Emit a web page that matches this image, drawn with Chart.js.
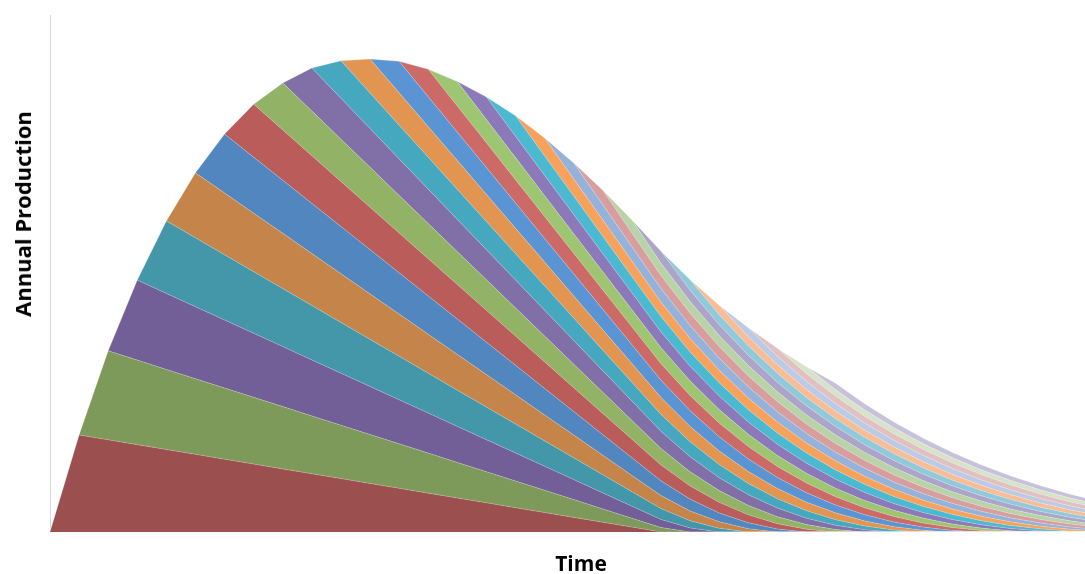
<!DOCTYPE html>
<html>
<head>
<meta charset="utf-8">
<title>Annual Production</title>
<script src="https://cdn.jsdelivr.net/npm/chart.js@4.4.1/dist/chart.umd.min.js"></script>
<style>
	body { margin: 0; overflow: hidden; background: #fff; }
	#wrap { position: relative; width: 1085px; height: 574px; overflow: hidden; }
	#canvas0 { position: absolute; left: 0; top: 0; }
	#ytitle {
		position: absolute; left: 22px; top: 214px;
		transform: translate(-50%, -50%) rotate(-90deg);
		white-space: nowrap;
		font: 700 22px 'Open Sans', sans-serif;
		color: #000;
	}
</style>
</head>
<body>
<div id="wrap">
	<canvas id="canvas0" width="1112" height="574"></canvas>
	<div id="ytitle">Annual Production</div>
</div>
<script>
// time steps on the x axis
const years = [0, 1, 2, 3, 4, 5, 6, 7, 8, 9, 10, 11, 12, 13, 14, 15, 16, 17, 18, 19,
	20, 21, 22, 23, 24, 25, 26, 27, 28, 29, 30, 31, 32, 33, 34, 35, 36, 37];

// first-year production of each annual cohort (one layer each)
const cohortRate = [97, 89, 80, 72.5, 65, 59, 53, 47, 43, 37.5, 34, 31.5, 27.5, 24.5,
	22.5, 20.5, 18, 16, 14.5, 13, 12, 10.5, 9.5, 9, 8, 7, 6.5];

// share of first-year rate left after n years
const declineFraction = [1, 0.95, 0.90, 0.85, 0.80, 0.75, 0.70, 0.65, 0.60, 0.55, 0.50,
	0.45, 0.40, 0.35, 0.30, 0.25, 0.20, 0.15, 0.10, 0.05, 0];

const seriesColors = [
	'#9B4F4E', '#7E9A5A', '#725F97', '#4397A8', '#C5844A', '#5286BE',
	'#B95C5A', '#92B266', '#8170A7', '#46A8BF', '#E19551', '#5A94D3',
	'#CB6A66', '#9EC572', '#8B79B9', '#4BBAD1', '#F7A25C', '#95B2DB',
	'#D89E9E', '#B8D3A7', '#ADA5C9', '#90C9DA', '#F9BC95', '#BCCBE5',
	'#E1C0BF', '#D4E3CA', '#C8C1DC'
];

/**
 * Production of one cohort at every time step.
 */
function cohortSeries(c) {
	return years.map(t => {
		const age = t - c - 1;
		const f = (age >= 0 && age < declineFraction.length) ? declineFraction[age] : 0;
		return { x: t, y: cohortRate[c] * f };
	});
}

const datasets = cohortRate.map((rate, c) => ({
	label: 'Cohort ' + (c + 1),
	data: cohortSeries(c),
	backgroundColor: seriesColors[c],
	borderColor: 'rgba(255, 255, 255, 0.45)',
	borderWidth: 0.5,
	pointRadius: 0,
	tension: 0,
	fill: c === 0 ? 'origin' : '-1'
}));

const ctx = document.getElementById('canvas0').getContext('2d');

new Chart(ctx, {
	type: 'line',
	data: { datasets: datasets },
	options: {
		responsive: false,
		animation: false,
		devicePixelRatio: 1,
		layout: { padding: { left: 50, top: 15, right: 0, bottom: 0 } },
		plugins: {
			legend: { display: false },
			tooltip: { enabled: false }
		},
		scales: {
			x: {
				type: 'linear',
				min: 0,
				max: 36.5,
				z: 1,
				ticks: { display: false },
				grid: { display: false, drawTicks: false },
				border: { display: true, color: '#a6a6a6', width: 1 },
				title: {
					display: true,
					text: 'Time',
					color: '#000',
					font: { family: "'Open Sans', sans-serif", size: 21, weight: 'bold', lineHeight: 0.86 },
					padding: { top: 24, bottom: 0 }
				}
			},
			y: {
				stacked: true,
				min: 0,
				max: 517,
				z: 1,
				ticks: { display: false },
				grid: { display: false, drawTicks: false },
				border: { display: true, color: '#d9d9d9', width: 1 }
			}
		}
	}
});
</script>
</body>
</html>
